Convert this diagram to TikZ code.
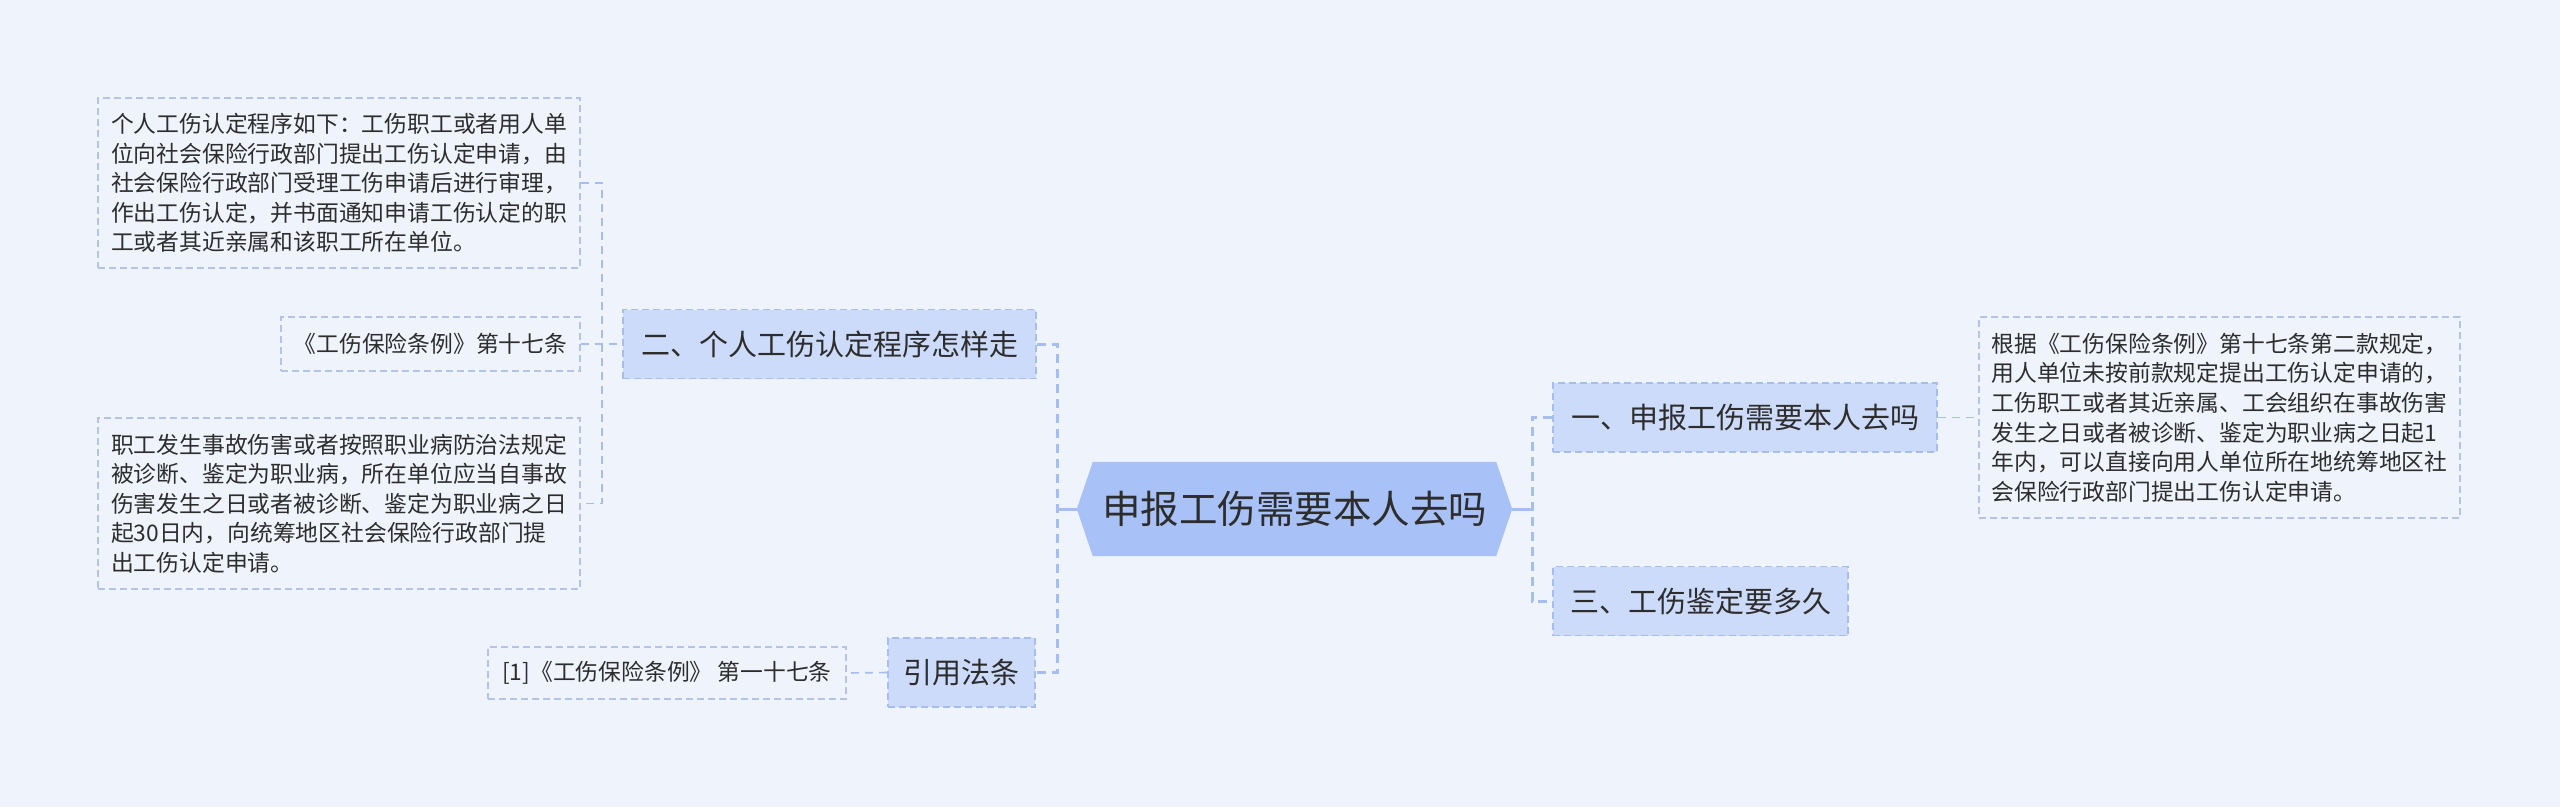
\documentclass[tikz,border=0pt]{standalone}
\usepackage{fontspec}
\setmainfont{Noto Sans CJK SC}
\usetikzlibrary{backgrounds}
\definecolor{bgc}{RGB}{239,243,251}
\definecolor{rootfill}{RGB}{168,193,247}
\definecolor{bfill}{RGB}{205,219,250}
\definecolor{bbrd}{RGB}{166,189,238}
\definecolor{lbrd}{RGB}{180,196,230}
\definecolor{lc}{RGB}{166,189,240}
\definecolor{txt}{RGB}{45,45,45}
\begin{document}
\begin{tikzpicture}[x=1pt,y=-1pt,
  root/.style={inner sep=0pt, minimum width=435pt, minimum height=94pt, text=txt, font=\fontsize{38.5}{46}\selectfont},
  branch/.style={draw=bbrd, fill=bfill, dash pattern=on 7pt off 4pt, line width=1.8pt, inner sep=0pt, minimum height=69pt, text=txt, font=\fontsize{29}{35}\selectfont},
  leaf/.style={draw=lbrd, dash pattern=on 7pt off 4pt, line width=1.4pt, inner sep=0pt, align=left, text=txt, font=\fontsize{22.8}{29.6}\selectfont},
  mainline/.style={draw=lc, line width=3pt, dash pattern=on 9pt off 6pt},
  stub/.style={draw=lc, line width=3pt},
  subline/.style={draw=lc, line width=1.6pt, dash pattern=on 8pt off 6pt}]
\useasboundingbox (0,0) rectangle (2560,807);
% root
\node[root] (c) at (1294.5,509) {申报工伤需要本人去吗};
\begin{pgfonlayer}{background}
  \fill[bgc] (0,0) rectangle (2560,807);
  \fill[rootfill] (c.west) -- ([xshift=16pt]c.north west) -- ([xshift=-16pt]c.north east) -- (c.east) -- ([xshift=-16pt]c.south east) -- ([xshift=16pt]c.south west) -- cycle;
\end{pgfonlayer}
% branches
\node[branch, minimum width=384pt] (n1) at (1745,417.5) {一、申报工伤需要本人去吗};
\node[branch, minimum width=295pt] (n3) at (1700.5,601) {三、工伤鉴定要多久};
\node[branch, minimum width=413pt] (n2) at (829.5,344) {二、个人工伤认定程序怎样走};
\node[branch, minimum width=147pt] (nr) at (961.5,672.5) {引用法条};
% leaves
\node[leaf, minimum width=482pt, minimum height=170pt] (b1) at (339,183) {个人工伤认定程序如下：工伤职工或者用人单\\位向社会保险行政部门提出工伤认定申请，由\\社会保险行政部门受理工伤申请后进行审理，\\作出工伤认定，并书面通知申请工伤认定的职\\工或者其近亲属和该职工所在单位。};
\node[leaf, minimum width=299pt, minimum height=54pt] (b2) at (430.5,344) {《工伤保险条例》第十七条};
\node[leaf, minimum width=482pt, minimum height=171pt] (b3) at (339,503.5) {职工发生事故伤害或者按照职业病防治法规定\\被诊断、鉴定为职业病，所在单位应当自事故\\伤害发生之日或者被诊断、鉴定为职业病之日\\起30日内，向统筹地区社会保险行政部门提\\出工伤认定申请。};
\node[leaf, minimum width=481pt, minimum height=201pt] (rb) at (2219.5,417.5) {根据《工伤保险条例》第十七条第二款规定，\\用人单位未按前款规定提出工伤认定申请的，\\工伤职工或者其近亲属、工会组织在事故伤害\\发生之日或者被诊断、鉴定为职业病之日起1\\年内，可以直接向用人单位所在地统筹地区社\\会保险行政部门提出工伤认定申请。};
\node[leaf, minimum width=358pt, minimum height=52pt] (bref) at (667,673) {[1]《工伤保险条例》 第一十七条};
% junctions
\coordinate (rj) at (1532,509);
\coordinate (lj) at (1057,509);
\coordinate (sj) at (602,344);
% connectors
\draw[stub] (c.east) -- (rj);
\draw[mainline] (n1.west) -| (rj) |- (n3.west);
\draw[stub] (c.west) -- (lj);
\draw[mainline] (n2.east) -| (lj) |- (nr.east);
\draw[subline] (b1.east) -| (sj) |- (b3.east);
\draw[subline] (b2.east) -- (n2.west);
\draw[subline] (n1.east) -- (rb.west);
\draw[subline] (nr.west) -- (bref.east);
\end{tikzpicture}
\end{document}
